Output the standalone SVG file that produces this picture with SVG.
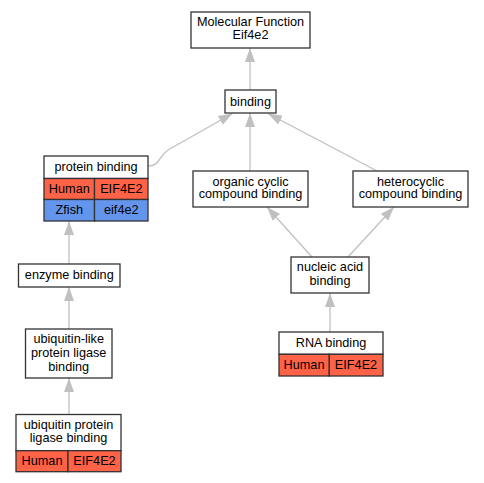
<svg xmlns="http://www.w3.org/2000/svg" width="484" height="483" viewBox="0 0 484 483">
<defs>
<style>
.box{fill:#ffffff;stroke:#333333;stroke-width:1.3}
.red{fill:#ff6347;stroke:#333333;stroke-width:1.3}
.blue{fill:#6495ed;stroke:#333333;stroke-width:1.3}
.edge{fill:none;stroke:#c0c0c0;stroke-width:1.3}
text{font-family:"Liberation Sans",Arial,sans-serif;font-size:12.7px;fill:#000;text-anchor:middle}
</style>
<marker id="arr" markerUnits="userSpaceOnUse" markerWidth="14" markerHeight="10" refX="14" refY="5" orient="auto" viewBox="0 0 14 10">
<path d="M0,0 L14,5 L0,10 z" fill="#c0c0c0"/>
</marker>
</defs>
<rect width="484" height="483" fill="#ffffff"/>
<g id="connectors">
<line class="edge" x1="250" y1="90" x2="250" y2="48" marker-end="url(#arr)"/>
<path class="edge" d="M148,166 C160,166 158,157 168,150 L232.5,113.5" marker-end="url(#arr)"/>
<line class="edge" x1="250" y1="171" x2="250" y2="113" marker-end="url(#arr)"/>
<line class="edge" x1="377" y1="171" x2="268" y2="113.5" marker-end="url(#arr)"/>
<line class="edge" x1="312" y1="257" x2="267" y2="207" marker-end="url(#arr)"/>
<line class="edge" x1="348" y1="257" x2="394" y2="207" marker-end="url(#arr)"/>
<line class="edge" x1="330" y1="332" x2="330" y2="293" marker-end="url(#arr)"/>
<line class="edge" x1="69" y1="264" x2="69" y2="221" marker-end="url(#arr)"/>
<line class="edge" x1="69" y1="329" x2="69" y2="287" marker-end="url(#arr)"/>
<line class="edge" x1="69" y1="414" x2="69" y2="378" marker-end="url(#arr)"/>
</g>
<g id="mf">
<rect class="box" x="191" y="12" width="119" height="36"/>
<text x="250.5" y="26">Molecular Function</text>
<text x="250.5" y="39">Eif4e2</text>
</g>
<g id="binding">
<rect class="box" x="225" y="90" width="51" height="23"/>
<text x="250.5" y="105.5">binding</text>
</g>
<g id="protein_binding">
<rect class="box" x="44" y="156" width="104" height="22.5"/>
<text x="96" y="170.5">protein binding</text>
<rect class="red" x="44" y="178.5" width="50.5" height="21"/>
<rect class="red" x="94.5" y="178.5" width="53.5" height="21"/>
<text x="69.3" y="193">Human</text>
<text x="121.3" y="193">EIF4E2</text>
<rect class="blue" x="44" y="199.5" width="50.5" height="21.5"/>
<rect class="blue" x="94.5" y="199.5" width="53.5" height="21.5"/>
<text x="69.3" y="214">Zfish</text>
<text x="121.3" y="214">eif4e2</text>
</g>
<g id="organic">
<rect class="box" x="193" y="171" width="115" height="36"/>
<text x="250.5" y="185.5">organic cyclic</text>
<text x="250.5" y="198">compound binding</text>
</g>
<g id="heterocyclic">
<rect class="box" x="353" y="171" width="115" height="36"/>
<text x="410.5" y="185.5">heterocyclic</text>
<text x="410.5" y="198">compound binding</text>
</g>
<g id="nucleic">
<rect class="box" x="291" y="257" width="78" height="36"/>
<text x="330" y="271">nucleic acid</text>
<text x="330" y="285">binding</text>
</g>
<g id="rna_binding">
<rect class="box" x="279" y="332" width="104" height="22.3"/>
<text x="331" y="346.5">RNA binding</text>
<rect class="red" x="279" y="354.3" width="50.3" height="21.7"/>
<rect class="red" x="329.3" y="354.3" width="53.7" height="21.7"/>
<text x="304" y="368.5">Human</text>
<text x="356" y="368.5">EIF4E2</text>
</g>
<g id="enzyme">
<rect class="box" x="18.5" y="264" width="101.5" height="23"/>
<text x="69.3" y="279">enzyme binding</text>
</g>
<g id="ubiq_like">
<rect class="box" x="25.5" y="329" width="86.5" height="49"/>
<text x="68.7" y="343">ubiquitin-like</text>
<text x="68.7" y="357">protein ligase</text>
<text x="68.7" y="370.5">binding</text>
</g>
<g id="ubiq_protein">
<rect class="box" x="16" y="414.5" width="105" height="36.2"/>
<text x="68.5" y="429">ubiquitin protein</text>
<text x="68.5" y="442">ligase binding</text>
<rect class="red" x="16" y="450.7" width="52" height="21"/>
<rect class="red" x="68" y="450.7" width="53" height="21"/>
<text x="42" y="464.5">Human</text>
<text x="94.5" y="464.5">EIF4E2</text>
</g>
</svg>
